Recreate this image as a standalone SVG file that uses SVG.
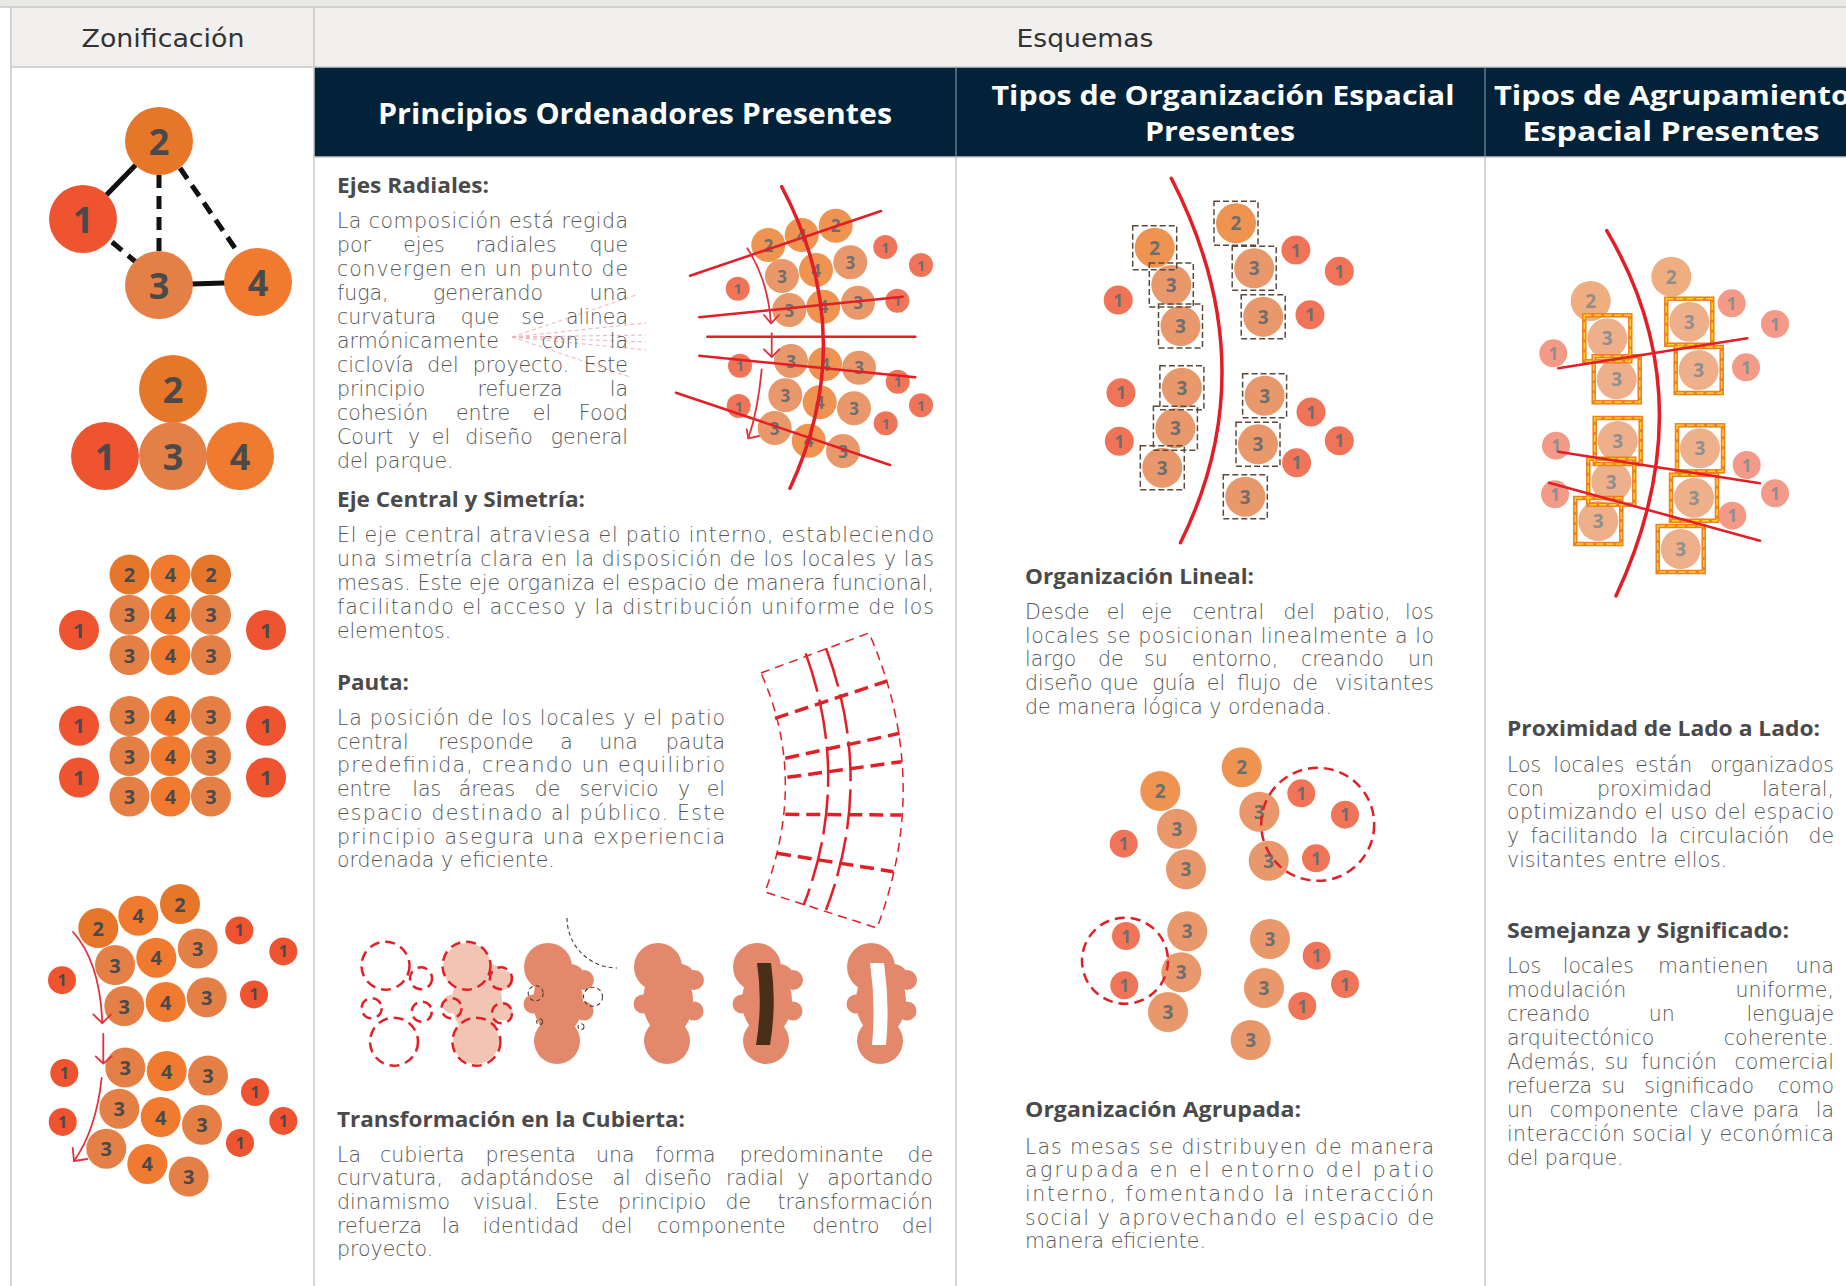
<svg xmlns="http://www.w3.org/2000/svg" xmlns:xlink="http://www.w3.org/1999/xlink" width="1846" height="1286" viewBox="0 0 1846 1286">
<defs>
<style>
.th{font-family:"DejaVu Sans","Open Sans",sans-serif;font-size:25px;fill:#333;text-anchor:middle}
.hd{font-family:"Open Sans","Liberation Sans",sans-serif;font-weight:700;fill:#fff;text-anchor:middle}
.h{font-family:"Open Sans","Liberation Sans",sans-serif;font-weight:700;font-size:22px;fill:#4a4a4a}
.b{font-family:"DejaVu Sans","Open Sans",sans-serif;font-weight:300;font-size:20.5px;fill:#555}
.m{text-anchor:middle}
.e{text-anchor:end}
.rule{stroke:#c9c9c9;stroke-width:1.5;fill:none}
.n{font-family:"Open Sans","Liberation Sans",sans-serif;font-weight:700;text-anchor:middle;dominant-baseline:central}
.z1{fill:#EE5430}.z2{fill:#E5762A}.z3{fill:#E48045}.z4{fill:#F07A30}
.nz{fill:#4a4a4a}
.p1{fill:#F07558}.p2{fill:#EF9350}.p3{fill:#E8986A}
.ng{fill:#6e6e6e}
.l1{fill:#F49A86}.l2{fill:#EFAE80}.l3{fill:#EDB08B}
.nl{fill:#8f8f8f}
.red{stroke:#E21E26;fill:none;stroke-linecap:round}
.arr{stroke:#E0303A;stroke-width:1.8;fill:none;stroke-linecap:round;stroke-linejoin:round}
.box{fill:none;stroke:#5b4a3b;stroke-width:1.5;stroke-dasharray:6 3}
.obox{fill:none;stroke:#F07F24;stroke-width:4.5}
.ybox{fill:none;stroke:#FFD21F;stroke-width:1.5;stroke-dasharray:7 3}
.dc{fill:none;stroke:#E21E26;stroke-width:2.5;stroke-dasharray:10 6}
.bk{fill:none;stroke:#4b3a2c;stroke-width:1.1;stroke-dasharray:4 3}
</style>
<g id="blob">
<circle cx="-10" cy="-36" r="24"/>
<circle cx="-1" cy="38" r="23"/>
<ellipse cx="0" cy="-2" rx="25" ry="35"/>
<ellipse cx="12" cy="-27" rx="14" ry="12"/>
<circle cx="26" cy="-23" r="10"/>
<circle cx="26" cy="8" r="9.5"/>
<circle cx="-25" cy="1" r="9.5"/>
</g>
<rect id="bx" x="-22" y="-22" width="44" height="44"/>
<rect id="bx2" x="-23" y="-23" width="46" height="46"/>
</defs>

<!-- table frame -->
<g id="table">
<rect x="0" y="0" width="1846" height="1286" fill="#fff"/>
<rect x="0" y="0" width="1846" height="7" fill="#ebe9e8"/>
<rect x="11" y="7" width="1835" height="60" fill="#f1f0ef"/>
<rect x="314" y="67" width="1532" height="90" fill="#02223A"/>
<line class="rule" x1="0" y1="7" x2="1846" y2="7"/>
<line class="rule" x1="11" y1="67" x2="1846" y2="67"/>
<line class="rule" x1="11" y1="7" x2="11" y2="1286"/>
<line class="rule" x1="314" y1="7" x2="314" y2="1286"/>
<line class="rule" x1="956" y1="157" x2="956" y2="1286"/>
<line class="rule" x1="1485" y1="157" x2="1485" y2="1286"/>
<line class="rule" x1="314" y1="157" x2="1846" y2="157"/>
<line x1="956" y1="67" x2="956" y2="157" stroke="#7f909c" stroke-width="1.2"/>
<line x1="1485" y1="67" x2="1485" y2="157" stroke="#7f909c" stroke-width="1.2"/>
<text class="th" x="163" y="47" textLength="163" lengthAdjust="spacingAndGlyphs">Zonificación</text>
<text class="th" x="1085" y="47" textLength="137" lengthAdjust="spacingAndGlyphs">Esquemas</text>
<text class="hd" x="635" y="124" font-size="28" textLength="514" lengthAdjust="spacingAndGlyphs">Principios Ordenadores Presentes</text>
<text class="hd" x="1223" y="105" font-size="26" textLength="463" lengthAdjust="spacingAndGlyphs">Tipos de Organización Espacial</text>
<text class="hd" x="1220" y="141" font-size="26" textLength="150" lengthAdjust="spacingAndGlyphs">Presentes</text>
<text class="hd" x="1494" y="105" font-size="26" style="text-anchor:start" textLength="356" lengthAdjust="spacingAndGlyphs">Tipos de Agrupamiento</text>
<text class="hd" x="1671" y="141" font-size="26" textLength="297" lengthAdjust="spacingAndGlyphs">Espacial Presentes</text>
</g>

<!-- Zonificación: relation graph -->
<g id="zon-graph">
<g id="zon-links" stroke="#111" stroke-width="5" fill="none">
<line x1="83" y1="219" x2="159" y2="141"/>
<line x1="159" y1="285" x2="258" y2="282"/>
<g stroke-dasharray="13 8">
<line x1="159" y1="175" x2="159" y2="251"/>
<line x1="180" y1="168" x2="239" y2="254"/>
<line x1="112" y1="242" x2="137" y2="263"/>
</g>
</g>
<g id="zn1"><circle class="z1" cx="83" cy="219" r="34"/><text class="n nz" x="83" y="219" font-size="36">1</text></g>
<g id="zn2"><circle class="z2" cx="159" cy="141" r="34"/><text class="n nz" x="159" y="141" font-size="36">2</text></g>
<g id="zn3"><circle class="z3" cx="159" cy="285" r="34"/><text class="n nz" x="159" y="285" font-size="36">3</text></g>
<g id="zn4"><circle class="z4" cx="258" cy="282" r="34"/><text class="n nz" x="258" y="282" font-size="36">4</text></g>
</g>

<!-- Zonificación: compact cluster -->
<g id="zon-cluster">
<circle class="z2" cx="173" cy="389" r="34"/>
<circle class="z1" cx="105" cy="456" r="34"/>
<circle class="z4" cx="240" cy="456" r="34"/>
<circle class="z3" cx="173" cy="456" r="34"/>
<g class="n nz" font-size="36">
<text x="173" y="389">2</text><text x="105" y="456">1</text><text x="173" y="456">3</text><text x="240" y="456">4</text>
</g>
</g>

<!-- Zonificación: grid layout -->
<g id="zon-grid">
<circle class="z2" cx="129.5" cy="574.5" r="20"/><circle class="z4" cx="170.5" cy="574.5" r="20"/><circle class="z2" cx="211" cy="574.5" r="20"/>
<circle class="z3" cx="129.5" cy="614.7" r="20"/><circle class="z4" cx="170.5" cy="614.7" r="20"/><circle class="z3" cx="211" cy="614.7" r="20"/>
<circle class="z3" cx="129.5" cy="655" r="20"/><circle class="z4" cx="170.5" cy="655" r="20"/><circle class="z3" cx="211" cy="655" r="20"/>
<circle class="z3" cx="129.5" cy="716" r="20"/><circle class="z4" cx="170.5" cy="716" r="20"/><circle class="z3" cx="211" cy="716" r="20"/>
<circle class="z3" cx="129.5" cy="756" r="20"/><circle class="z4" cx="170.5" cy="756" r="20"/><circle class="z3" cx="211" cy="756" r="20"/>
<circle class="z3" cx="129.5" cy="796.5" r="20"/><circle class="z4" cx="170.5" cy="796.5" r="20"/><circle class="z3" cx="211" cy="796.5" r="20"/>
<circle class="z1" cx="79" cy="630" r="20"/><circle class="z1" cx="266" cy="630" r="20"/>
<circle class="z1" cx="79" cy="725.7" r="20"/><circle class="z1" cx="266" cy="725.7" r="20"/>
<circle class="z1" cx="79" cy="777.5" r="20"/><circle class="z1" cx="266" cy="777.5" r="20"/>
<g class="n nz" font-size="20">
<text x="129.5" y="574.5">2</text><text x="170.5" y="574.5">4</text><text x="211" y="574.5">2</text>
<text x="129.5" y="614.7">3</text><text x="170.5" y="614.7">4</text><text x="211" y="614.7">3</text>
<text x="129.5" y="655">3</text><text x="170.5" y="655">4</text><text x="211" y="655">3</text>
<text x="129.5" y="716">3</text><text x="170.5" y="716">4</text><text x="211" y="716">3</text>
<text x="129.5" y="756">3</text><text x="170.5" y="756">4</text><text x="211" y="756">3</text>
<text x="129.5" y="796.5">3</text><text x="170.5" y="796.5">4</text><text x="211" y="796.5">3</text>
<text x="79" y="630">1</text><text x="266" y="630">1</text>
<text x="79" y="725.7">1</text><text x="266" y="725.7">1</text>
<text x="79" y="777.5">1</text><text x="266" y="777.5">1</text>
</g>
</g>

<!-- Zonificación: curved layout -->
<g id="zon-curve">
<circle class="z2" cx="98.3" cy="928" r="20"/><circle class="z4" cx="138.3" cy="915.7" r="20"/><circle class="z2" cx="180" cy="904" r="20"/>
<circle class="z3" cx="115" cy="965" r="20"/><circle class="z4" cx="156.3" cy="957.7" r="20"/><circle class="z3" cx="197.7" cy="948.4" r="20"/>
<circle class="z3" cx="124.3" cy="1006" r="20"/><circle class="z4" cx="165.7" cy="1002" r="20"/><circle class="z3" cx="206.7" cy="997.3" r="20"/>
<circle class="z3" cx="125.3" cy="1067.6" r="20"/><circle class="z4" cx="166.7" cy="1071" r="20"/><circle class="z3" cx="208" cy="1075.4" r="20"/>
<circle class="z3" cx="119.3" cy="1108.7" r="20"/><circle class="z4" cx="160.7" cy="1117" r="20"/><circle class="z3" cx="202" cy="1124.8" r="20"/>
<circle class="z3" cx="106.3" cy="1148.7" r="20"/><circle class="z4" cx="147.3" cy="1163.9" r="20"/><circle class="z3" cx="188.7" cy="1176.6" r="20"/>
<circle class="z1" cx="62" cy="980.2" r="14"/><circle class="z1" cx="239.3" cy="930.4" r="14"/><circle class="z1" cx="283.3" cy="951.4" r="14"/>
<circle class="z1" cx="254" cy="994.4" r="14"/><circle class="z1" cx="64.3" cy="1073" r="14"/><circle class="z1" cx="62.7" cy="1121.9" r="14"/>
<circle class="z1" cx="255" cy="1092" r="14"/><circle class="z1" cx="283.3" cy="1120.9" r="14"/><circle class="z1" cx="240" cy="1142.9" r="14"/>
<g class="n nz" font-size="20">
<text x="98.3" y="928">2</text><text x="138.3" y="915.7">4</text><text x="180" y="904">2</text>
<text x="115" y="965">3</text><text x="156.3" y="957.7">4</text><text x="197.7" y="948.4">3</text>
<text x="124.3" y="1006">3</text><text x="165.7" y="1002">4</text><text x="206.7" y="997.3">3</text>
<text x="125.3" y="1067.6">3</text><text x="166.7" y="1071">4</text><text x="208" y="1075.4">3</text>
<text x="119.3" y="1108.7">3</text><text x="160.7" y="1117">4</text><text x="202" y="1124.8">3</text>
<text x="106.3" y="1148.7">3</text><text x="147.3" y="1163.9">4</text><text x="188.7" y="1176.6">3</text>
</g>
<g class="n nz" font-size="16">
<text x="62" y="980.2">1</text><text x="239.3" y="930.4">1</text><text x="283.3" y="951.4">1</text>
<text x="254" y="994.4">1</text><text x="64.3" y="1073">1</text><text x="62.7" y="1121.9">1</text>
<text x="255" y="1092">1</text><text x="283.3" y="1120.9">1</text><text x="240" y="1142.9">1</text>
</g>
<g class="arr" stroke-width="2">
<path d="M73,932 Q100,962 102.3,1023"/><path d="M93.3,1014.4 L102.3,1023.2 L111,1014.4"/>
<path d="M103.3,1034 L103.3,1063"/><path d="M95.7,1056.4 L103.3,1063.5 L111.7,1056.4"/>
<path d="M101.7,1078 Q96,1130 74,1161"/><path d="M72.7,1147.8 L74,1161 L87.3,1159"/>
</g>
</g>

<!-- Principios: Ejes Radiales -->
<g id="ejes-radiales">
<text class="h" x="337" y="193" textLength="152" lengthAdjust="spacingAndGlyphs">Ejes Radiales:</text>
<g stroke="#F3A1A9" stroke-width="1" stroke-dasharray="4 3" fill="none" opacity="0.85">
<line x1="512" y1="337" x2="636" y2="295"/><line x1="512" y1="337" x2="646" y2="323"/>
<line x1="512" y1="337" x2="646" y2="335"/><line x1="512" y1="337" x2="646" y2="342"/>
<line x1="512" y1="337" x2="646" y2="350"/><line x1="512" y1="337" x2="630" y2="377"/>
</g>
<g class="b">
<text x="337" y="228" textLength="291" lengthAdjust="spacing">La composición está regida</text>
<text x="337" y="252">por</text><text class="m" x="424" y="252">ejes</text><text class="m" x="516" y="252">radiales</text><text class="e" x="628" y="252">que</text>
<text x="337" y="276" textLength="291" lengthAdjust="spacing">convergen en un punto de</text>
<text x="337" y="300">fuga,</text><text class="m" x="488" y="300">generando</text><text class="e" x="628" y="300">una</text>
<text x="337" y="324">curvatura</text><text class="m" x="480" y="324">que</text><text class="m" x="533" y="324">se</text><text class="e" x="628" y="324">alinea</text>
<text x="337" y="348">armónicamente</text><text class="m" x="560" y="348">con</text><text class="e" x="628" y="348">la</text>
<text x="337" y="372">ciclovía</text><text class="m" x="443" y="372">del</text><text class="m" x="521" y="372">proyecto.</text><text class="e" x="628" y="372">Este</text>
<text x="337" y="396">principio</text><text class="m" x="520" y="396">refuerza</text><text class="e" x="628" y="396">la</text>
<text x="337" y="420">cohesión</text><text class="m" x="483" y="420">entre</text><text class="m" x="542" y="420">el</text><text class="e" x="628" y="420">Food</text>
<text x="337" y="444">Court</text><text class="m" x="414" y="444">y</text><text class="m" x="441" y="444">el</text><text class="m" x="499" y="444">diseño</text><text class="e" x="628" y="444">general</text>
<text x="337" y="468">del parque.</text>
</g>
<!-- radial scheme -->
<g>
<circle class="p2" cx="768.3" cy="245" r="17"/><circle class="p2" cx="801.7" cy="235" r="17"/><circle class="p2" cx="835.7" cy="225.7" r="17"/>
<circle class="p3" cx="782" cy="276" r="17"/><circle class="p2" cx="816" cy="270" r="17"/><circle class="p3" cx="850.3" cy="262.3" r="17"/>
<circle class="p3" cx="789.3" cy="310" r="17"/><circle class="p2" cx="823.3" cy="306.7" r="17"/><circle class="p3" cx="858" cy="302.7" r="17"/>
<circle class="p3" cx="791" cy="361" r="17"/><circle class="p2" cx="825" cy="364" r="17"/><circle class="p3" cx="859" cy="367.7" r="17"/>
<circle class="p3" cx="785.3" cy="395.3" r="17"/><circle class="p2" cx="819.7" cy="402.3" r="17"/><circle class="p3" cx="854" cy="408.3" r="17"/>
<circle class="p3" cx="774.7" cy="428" r="17"/><circle class="p2" cx="808.7" cy="440.7" r="17"/><circle class="p3" cx="843" cy="451" r="17"/>
<circle class="p1" cx="737.7" cy="288.7" r="12"/><circle class="p1" cx="885.3" cy="247" r="12"/><circle class="p1" cx="921" cy="265" r="12"/>
<circle class="p1" cx="897.3" cy="300.7" r="12"/><circle class="p1" cx="740" cy="365.7" r="12"/><circle class="p1" cx="897.7" cy="381.7" r="12"/>
<circle class="p1" cx="921" cy="405.3" r="12"/><circle class="p1" cx="885.7" cy="423.3" r="12"/><circle class="p1" cx="738.7" cy="406" r="12"/>
<g class="n ng" font-size="17">
<text x="768.3" y="245">2</text><text x="801.7" y="235">4</text><text x="835.7" y="225.7">2</text>
<text x="782" y="276">3</text><text x="816" y="270">4</text><text x="850.3" y="262.3">3</text>
<text x="789.3" y="310">3</text><text x="823.3" y="306.7">4</text><text x="858" y="302.7">3</text>
<text x="791" y="361">3</text><text x="825" y="364">4</text><text x="859" y="367.7">3</text>
<text x="785.3" y="395.3">3</text><text x="819.7" y="402.3">4</text><text x="854" y="408.3">3</text>
<text x="774.7" y="428">3</text><text x="808.7" y="440.7">4</text><text x="843" y="451">3</text>
</g>
<g class="n ng" font-size="14">
<text x="737.7" y="288.7">1</text><text x="885.3" y="247">1</text><text x="921" y="265">1</text>
<text x="897.3" y="300.7">1</text><text x="740" y="365.7">1</text><text x="897.7" y="381.7">1</text>
<text x="921" y="405.3">1</text><text x="885.7" y="423.3">1</text><text x="738.7" y="406">1</text>
</g>
<g class="red" stroke-width="2.5">
<line x1="690" y1="275.7" x2="881" y2="211"/>
<line x1="699.3" y1="317.3" x2="902.7" y2="296.7"/>
<line x1="707.3" y1="336.7" x2="915.3" y2="336.7"/>
<line x1="699.3" y1="355.7" x2="915.3" y2="377.3"/>
<line x1="676" y1="392.7" x2="890" y2="465"/>
</g>
<path class="red" stroke-width="3.5" d="M781.7,186.7 Q860.8,336 790,488.3"/>
<g class="arr" stroke-width="1.6">
<path d="M747.3,248.3 Q768,280 771,323.3"/><path d="M764,315 L771,323.3 L779,315"/>
<path d="M771.7,333.3 L771.7,356.7"/><path d="M764,349.3 L771.7,357 L779.3,349.3"/>
<path d="M761.7,369.3 Q758,410 748.3,438.3"/><path d="M746.7,429.3 L748.3,438.3 L759,436"/>
</g>
</g>
</g>

<!-- Principios: Eje Central y Simetría -->
<g id="eje-central">
<text class="h" x="337" y="507" textLength="248" lengthAdjust="spacingAndGlyphs">Eje Central y Simetría:</text>
<g class="b">
<text x="337" y="542" textLength="597" lengthAdjust="spacing">El eje central atraviesa el patio interno, estableciendo</text>
<text x="337" y="566" textLength="597" lengthAdjust="spacing">una simetría clara en la disposición de los locales y las</text>
<text x="337" y="590" textLength="597" lengthAdjust="spacing">mesas. Este eje organiza el espacio de manera funcional,</text>
<text x="337" y="614" textLength="597" lengthAdjust="spacing">facilitando el acceso y la distribución uniforme de los</text>
<text x="337" y="638">elementos.</text>
</g>
</g>

<!-- Principios: Pauta -->
<g id="pauta">
<text class="h" x="337" y="690" textLength="72" lengthAdjust="spacingAndGlyphs">Pauta:</text>
<g class="b">
<text x="337" y="725" textLength="388" lengthAdjust="spacing">La posición de los locales y el patio</text>
<text x="337" y="748.7">central</text><text class="m" x="486" y="748.7">responde</text><text class="m" x="566.5" y="748.7">a</text><text class="m" x="618.6" y="748.7">una</text><text class="e" x="725" y="748.7">pauta</text>
<text x="337" y="772.4" textLength="388" lengthAdjust="spacing">predefinida, creando un equilibrio</text>
<text x="337" y="796">entre</text><text class="m" x="426.7" y="796">las</text><text class="m" x="487" y="796">áreas</text><text class="m" x="547.6" y="796">de</text><text class="m" x="619" y="796">servicio</text><text class="m" x="684" y="796">y</text><text class="e" x="725" y="796">el</text>
<text x="337" y="819.8" textLength="388" lengthAdjust="spacing">espacio destinado al público. Este</text>
<text x="337" y="843.5" textLength="388" lengthAdjust="spacing">principio asegura una experiencia</text>
<text x="337" y="867.2">ordenada y eficiente.</text>
</g>
<!-- curved grid scheme -->
<g fill="none" stroke="#E21E26">
<path d="M761,673 L869,633 Q933,779.5 877,928 L765,892 Q807.6,777.5 761,673 Z" stroke-width="1.5" stroke-dasharray="9 6"/>
<g stroke-width="3.5" stroke-dasharray="14 7">
<line x1="775" y1="718.3" x2="887.3" y2="681"/>
<line x1="785.3" y1="758.3" x2="899.6" y2="733.3"/>
<line x1="787.3" y1="777.3" x2="901.6" y2="761.7"/>
<line x1="785.3" y1="814.3" x2="901.6" y2="815"/>
<line x1="777.1" y1="853.3" x2="893.5" y2="871.7"/>
</g>
<g stroke-width="2.5" stroke-dasharray="40 8">
<path d="M805.7,653.3 Q851.7,780.8 803.7,905"/>
<path d="M826,648.3 Q875.2,780.8 826,910"/>
</g>
</g>
</g>

<!-- Principios: cubierta transformation sequence -->
<g id="cubierta">
<g class="dc">
<circle cx="385.5" cy="965.7" r="24"/><circle cx="421" cy="978.3" r="11"/><circle cx="371.6" cy="1008.3" r="10"/>
<circle cx="421.8" cy="1011.7" r="10"/><circle cx="394" cy="1041.7" r="24"/>
</g>
<use xlink:href="#blob" href="#blob" x="477" y="1003" fill="#F2C4B4"/>
<g class="dc">
<circle cx="466.5" cy="965.7" r="24"/><circle cx="500.9" cy="978.3" r="11"/><circle cx="451.5" cy="1008.3" r="10"/>
<circle cx="502" cy="1013.3" r="10"/><circle cx="476.4" cy="1041.7" r="24"/>
</g>
<use xlink:href="#blob" href="#blob" x="558" y="1003" fill="#E3886A"/>
<g class="bk">
<path d="M567,918 A50,50 0 0 0 617,968"/>
<circle cx="535.7" cy="993.3" r="7.5"/><circle cx="593" cy="996.7" r="9.5"/>
<circle cx="539.6" cy="1021.7" r="3"/><circle cx="581" cy="1026.7" r="3"/>
</g>
<use xlink:href="#blob" href="#blob" x="668" y="1003" fill="#E3886A"/>
<use xlink:href="#blob" href="#blob" x="767" y="1003" fill="#E3886A"/>
<path d="M757,963 L771,963 Q777,1004 770,1045 L756,1045 Q763,1004 757,963 Z" fill="#4A2F18"/>
<use xlink:href="#blob" href="#blob" x="881" y="1003" fill="#E3886A"/>
<path d="M870,963 L884,963 Q890,1004 886,1045 L872,1045 Q876,1004 870,963 Z" fill="#fff"/>
<text class="h" x="337" y="1127" textLength="348" lengthAdjust="spacingAndGlyphs">Transformación en la Cubierta:</text>
<g class="b">
<text x="337" y="1161.7">La</text><text class="m" x="422.2" y="1161.7">cubierta</text><text class="m" x="530.7" y="1161.7">presenta</text><text class="m" x="615.3" y="1161.7">una</text><text class="m" x="685.3" y="1161.7">forma</text><text class="m" x="811.5" y="1161.7">predominante</text><text class="e" x="933" y="1161.7">de</text>
<text x="337" y="1185.3">curvatura,</text><text class="m" x="526.8" y="1185.3">adaptándose</text><text class="m" x="621.6" y="1185.3">al</text><text class="m" x="678" y="1185.3">diseño</text><text class="m" x="755" y="1185.3">radial</text><text class="m" x="803.4" y="1185.3">y</text><text class="e" x="933" y="1185.3">aportando</text>
<text x="337" y="1209">dinamismo</text><text class="m" x="506" y="1209">visual.</text><text class="m" x="577.2" y="1209">Este</text><text class="m" x="662.1" y="1209">principio</text><text class="m" x="738.2" y="1209">de</text><text class="e" x="933" y="1209">transformación</text>
<text x="337" y="1232.7">refuerza</text><text class="m" x="451" y="1232.7">la</text><text class="m" x="530.7" y="1232.7">identidad</text><text class="m" x="616.7" y="1232.7">del</text><text class="m" x="721.4" y="1232.7">componente</text><text class="m" x="845.9" y="1232.7">dentro</text><text class="e" x="933" y="1232.7">del</text>
<text x="337" y="1256.4">proyecto.</text>
</g>
</g>

<!-- Organización: lineal -->
<g id="org-lineal">
<circle class="p2" cx="1154.7" cy="247.7" r="20"/><circle class="p3" cx="1171.3" cy="285" r="20"/><circle class="p3" cx="1180.5" cy="326" r="20"/>
<circle class="p3" cx="1181.9" cy="387.7" r="20"/><circle class="p3" cx="1175.4" cy="428.3" r="20"/><circle class="p3" cx="1162.3" cy="467.7" r="20"/>
<circle class="p2" cx="1236" cy="223.3" r="20"/><circle class="p3" cx="1254.2" cy="268.3" r="20"/><circle class="p3" cx="1263.2" cy="316.7" r="20"/>
<circle class="p3" cx="1264.6" cy="395.7" r="20"/><circle class="p3" cx="1258" cy="444.3" r="20"/><circle class="p3" cx="1245.3" cy="496.7" r="20"/>
<circle class="p1" cx="1118.2" cy="300" r="14.5"/><circle class="p1" cx="1295.9" cy="250" r="14.5"/><circle class="p1" cx="1339.3" cy="271.3" r="14.5"/>
<circle class="p1" cx="1310" cy="314.7" r="14.5"/><circle class="p1" cx="1121" cy="392.7" r="14.5"/><circle class="p1" cx="1119.3" cy="441.3" r="14.5"/>
<circle class="p1" cx="1311" cy="412" r="14.5"/><circle class="p1" cx="1339.3" cy="440.7" r="14.5"/><circle class="p1" cx="1296.6" cy="462.7" r="14.5"/>
<g class="box">
<use xlink:href="#bx" href="#bx" x="1154.7" y="247.7"/><use xlink:href="#bx" href="#bx" x="1171.3" y="285"/><use xlink:href="#bx" href="#bx" x="1180.5" y="326"/>
<use xlink:href="#bx" href="#bx" x="1181.9" y="387.7"/><use xlink:href="#bx" href="#bx" x="1175.4" y="428.3"/><use xlink:href="#bx" href="#bx" x="1162.3" y="467.7"/>
<use xlink:href="#bx" href="#bx" x="1236" y="223.3"/><use xlink:href="#bx" href="#bx" x="1254.2" y="268.3"/><use xlink:href="#bx" href="#bx" x="1263.2" y="316.7"/>
<use xlink:href="#bx" href="#bx" x="1264.6" y="395.7"/><use xlink:href="#bx" href="#bx" x="1258" y="444.3"/><use xlink:href="#bx" href="#bx" x="1245.3" y="496.7"/>
</g>
<g class="n ng" font-size="19">
<text x="1154.7" y="247.7">2</text><text x="1171.3" y="285">3</text><text x="1180.5" y="326">3</text>
<text x="1181.9" y="387.7">3</text><text x="1175.4" y="428.3">3</text><text x="1162.3" y="467.7">3</text>
<text x="1236" y="223.3">2</text><text x="1254.2" y="268.3">3</text><text x="1263.2" y="316.7">3</text>
<text x="1264.6" y="395.7">3</text><text x="1258" y="444.3">3</text><text x="1245.3" y="496.7">3</text>
</g>
<g class="n ng" font-size="17">
<text x="1118.2" y="300">1</text><text x="1295.9" y="250">1</text><text x="1339.3" y="271.3">1</text>
<text x="1310" y="314.7">1</text><text x="1121" y="392.7">1</text><text x="1119.3" y="441.3">1</text>
<text x="1311" y="412">1</text><text x="1339.3" y="440.7">1</text><text x="1296.6" y="462.7">1</text>
</g>
<path class="red" stroke-width="3.5" d="M1171.3,178.3 Q1267.9,366.1 1180.5,542.7"/>
<text class="h" x="1025" y="584" textLength="229" lengthAdjust="spacingAndGlyphs">Organización Lineal:</text>
<g class="b">
<text x="1025" y="619">Desde</text><text class="m" x="1115.8" y="619">el</text><text class="m" x="1156.7" y="619">eje</text><text class="m" x="1228.3" y="619">central</text><text class="m" x="1299.2" y="619">del</text><text class="m" x="1361.7" y="619">patio,</text><text class="e" x="1434" y="619">los</text>
<text x="1025" y="642.7" textLength="409" lengthAdjust="spacing">locales se posicionan linealmente a lo</text>
<text x="1025" y="666.4">largo</text><text class="m" x="1110.8" y="666.4">de</text><text class="m" x="1155.8" y="666.4">su</text><text class="m" x="1235" y="666.4">entorno,</text><text class="m" x="1342.5" y="666.4">creando</text><text class="e" x="1434" y="666.4">un</text>
<text x="1025" y="690.1">diseño</text><text class="m" x="1119" y="690.1">que</text><text class="m" x="1174" y="690.1">guía</text><text class="m" x="1216" y="690.1">el</text><text class="m" x="1259" y="690.1">flujo</text><text class="m" x="1305" y="690.1">de</text><text class="e" x="1434" y="690.1">visitantes</text>
<text x="1025" y="713.8">de manera lógica y ordenada.</text>
</g>
</g>

<!-- Organización: agrupada -->
<g id="org-agrupada">
<circle class="p2" cx="1241.7" cy="767.3" r="20"/><circle class="p2" cx="1160.3" cy="791" r="20"/>
<circle class="p3" cx="1177" cy="828.7" r="20"/><circle class="p3" cx="1186" cy="869.3" r="20"/>
<circle class="p3" cx="1259.3" cy="811.7" r="20"/><circle class="p3" cx="1268.7" cy="860.7" r="20"/>
<circle class="p3" cx="1187.3" cy="931.3" r="20"/><circle class="p3" cx="1181.3" cy="972.3" r="20"/><circle class="p3" cx="1168" cy="1012" r="20"/>
<circle class="p3" cx="1270" cy="939" r="20"/><circle class="p3" cx="1264" cy="988" r="20"/><circle class="p3" cx="1250.7" cy="1040" r="20"/>
<circle class="p1" cx="1123.7" cy="843.7" r="14"/><circle class="p1" cx="1301.3" cy="793.3" r="14"/><circle class="p1" cx="1345" cy="814.7" r="14"/>
<circle class="p1" cx="1316" cy="858.3" r="14"/><circle class="p1" cx="1126" cy="936" r="14"/><circle class="p1" cx="1124.3" cy="985.3" r="14"/>
<circle class="p1" cx="1316.7" cy="955.7" r="14"/><circle class="p1" cx="1345" cy="984" r="14"/><circle class="p1" cx="1302.3" cy="1006" r="14"/>
<g class="n ng" font-size="19">
<text x="1241.7" y="767.3">2</text><text x="1160.3" y="791">2</text>
<text x="1177" y="828.7">3</text><text x="1186" y="869.3">3</text>
<text x="1259.3" y="811.7">3</text><text x="1268.7" y="860.7">3</text>
<text x="1187.3" y="931.3">3</text><text x="1181.3" y="972.3">3</text><text x="1168" y="1012">3</text>
<text x="1270" y="939">3</text><text x="1264" y="988">3</text><text x="1250.7" y="1040">3</text>
</g>
<g class="n ng" font-size="17">
<text x="1123.7" y="843.7">1</text><text x="1301.3" y="793.3">1</text><text x="1345" y="814.7">1</text>
<text x="1316" y="858.3">1</text><text x="1126" y="936">1</text><text x="1124.3" y="985.3">1</text>
<text x="1316.7" y="955.7">1</text><text x="1345" y="984">1</text><text x="1302.3" y="1006">1</text>
</g>
<circle class="dc" cx="1317.7" cy="824.3" r="56.5" stroke-dasharray="12 7"/>
<circle class="dc" cx="1125" cy="960.7" r="43" stroke-dasharray="12 7"/>
<text class="h" x="1025" y="1117.3" textLength="276" lengthAdjust="spacingAndGlyphs">Organización Agrupada:</text>
<g class="b">
<text x="1025" y="1153.5" textLength="409" lengthAdjust="spacing">Las mesas se distribuyen de manera</text>
<text x="1025" y="1177.2" textLength="409" lengthAdjust="spacing">agrupada en el entorno del patio</text>
<text x="1025" y="1200.9" textLength="409" lengthAdjust="spacing">interno, fomentando la interacción</text>
<text x="1025" y="1224.6" textLength="409" lengthAdjust="spacing">social y aprovechando el espacio de</text>
<text x="1025" y="1248.3">manera eficiente.</text>
</g>
</g>

<!-- Agrupamiento scheme -->
<g id="agrupamiento">
<circle class="l2" cx="1590.7" cy="301" r="20"/><circle class="l2" cx="1671.3" cy="276.7" r="20"/>
<circle class="l3" cx="1607.3" cy="338.3" r="20"/><circle class="l3" cx="1616.7" cy="379.3" r="20"/>
<circle class="l3" cx="1689.3" cy="321.7" r="20"/><circle class="l3" cx="1698.7" cy="370" r="20"/>
<circle class="l3" cx="1617.7" cy="441" r="20"/><circle class="l3" cx="1611.3" cy="481.7" r="20"/><circle class="l3" cx="1598.3" cy="521" r="20"/>
<circle class="l3" cx="1700" cy="448.3" r="20"/><circle class="l3" cx="1694" cy="497.7" r="20"/><circle class="l3" cx="1680.7" cy="549" r="20"/>
<circle class="l1" cx="1553.3" cy="353.3" r="14"/><circle class="l1" cx="1731.7" cy="303.3" r="14"/><circle class="l1" cx="1775" cy="324" r="14"/>
<circle class="l1" cx="1746" cy="367.3" r="14"/><circle class="l1" cx="1556" cy="445.7" r="14"/><circle class="l1" cx="1555" cy="494.3" r="14"/>
<circle class="l1" cx="1746.7" cy="465" r="14"/><circle class="l1" cx="1775" cy="493.3" r="14"/><circle class="l1" cx="1732.3" cy="515.7" r="14"/>
<g class="obox">
<use xlink:href="#bx2" href="#bx2" x="1607.3" y="338.3"/><use xlink:href="#bx2" href="#bx2" x="1616.7" y="379.3"/>
<use xlink:href="#bx2" href="#bx2" x="1689.3" y="321.7"/><use xlink:href="#bx2" href="#bx2" x="1698.7" y="370"/>
<use xlink:href="#bx2" href="#bx2" x="1617.7" y="441"/><use xlink:href="#bx2" href="#bx2" x="1611.3" y="481.7"/><use xlink:href="#bx2" href="#bx2" x="1598.3" y="521"/>
<use xlink:href="#bx2" href="#bx2" x="1700" y="448.3"/><use xlink:href="#bx2" href="#bx2" x="1694" y="497.7"/><use xlink:href="#bx2" href="#bx2" x="1680.7" y="549"/>
</g>
<g class="ybox">
<use xlink:href="#bx2" href="#bx2" x="1607.3" y="338.3"/><use xlink:href="#bx2" href="#bx2" x="1616.7" y="379.3"/>
<use xlink:href="#bx2" href="#bx2" x="1689.3" y="321.7"/><use xlink:href="#bx2" href="#bx2" x="1698.7" y="370"/>
<use xlink:href="#bx2" href="#bx2" x="1617.7" y="441"/><use xlink:href="#bx2" href="#bx2" x="1611.3" y="481.7"/><use xlink:href="#bx2" href="#bx2" x="1598.3" y="521"/>
<use xlink:href="#bx2" href="#bx2" x="1700" y="448.3"/><use xlink:href="#bx2" href="#bx2" x="1694" y="497.7"/><use xlink:href="#bx2" href="#bx2" x="1680.7" y="549"/>
</g>
<g class="n nl" font-size="19">
<text x="1590.7" y="301">2</text><text x="1671.3" y="276.7">2</text>
<text x="1607.3" y="338.3">3</text><text x="1616.7" y="379.3">3</text>
<text x="1689.3" y="321.7">3</text><text x="1698.7" y="370">3</text>
<text x="1617.7" y="441">3</text><text x="1611.3" y="481.7">3</text><text x="1598.3" y="521">3</text>
<text x="1700" y="448.3">3</text><text x="1694" y="497.7">3</text><text x="1680.7" y="549">3</text>
</g>
<g class="n nl" font-size="17">
<text x="1553.3" y="353.3">1</text><text x="1731.7" y="303.3">1</text><text x="1775" y="324">1</text>
<text x="1746" y="367.3">1</text><text x="1556" y="445.7">1</text><text x="1555" y="494.3">1</text>
<text x="1746.7" y="465">1</text><text x="1775" y="493.3">1</text><text x="1732.3" y="515.7">1</text>
</g>
<g class="red" stroke-width="2.5">
<line x1="1558.3" y1="368.3" x2="1747.3" y2="338.3"/>
<line x1="1558.3" y1="451.7" x2="1760" y2="483.3"/>
<line x1="1549" y1="482.7" x2="1760" y2="540.7"/>
</g>
<path class="red" stroke-width="3.5" d="M1606.7,230.7 Q1707.3,400 1616,596"/>
</g>

<!-- Agrupamiento texts -->
<g id="proximidad">
<text class="h" x="1507" y="735.5" textLength="313" lengthAdjust="spacingAndGlyphs">Proximidad de Lado a Lado:</text>
<g class="b">
<text x="1507" y="772">Los</text><text class="m" x="1588.8" y="772">locales</text><text class="m" x="1663.8" y="772">están</text><text class="e" x="1834" y="772">organizados</text>
<text x="1507" y="795.7">con</text><text class="m" x="1654.5" y="795.7">proximidad</text><text class="e" x="1834" y="795.7">lateral,</text>
<text x="1507" y="819.4" textLength="327" lengthAdjust="spacing">optimizando el uso del espacio</text>
<text x="1507" y="843.1">y</text><text class="m" x="1584.2" y="843.1">facilitando</text><text class="m" x="1659.2" y="843.1">la</text><text class="m" x="1734.2" y="843.1">circulación</text><text class="e" x="1834" y="843.1">de</text>
<text x="1507" y="866.8">visitantes entre ellos.</text>
</g>
</g>
<g id="semejanza">
<text class="h" x="1507" y="938" textLength="282" lengthAdjust="spacingAndGlyphs">Semejanza y Significado:</text>
<g class="b">
<text x="1507" y="973">Los</text><text class="m" x="1598.3" y="973">locales</text><text class="m" x="1713.3" y="973">mantienen</text><text class="e" x="1834" y="973">una</text>
<text x="1507" y="997">modulación</text><text class="e" x="1834" y="997">uniforme,</text>
<text x="1507" y="1021">creando</text><text class="m" x="1661.7" y="1021">un</text><text class="e" x="1834" y="1021">lenguaje</text>
<text x="1507" y="1045">arquitectónico</text><text class="e" x="1834" y="1045">coherente.</text>
<text x="1507" y="1069">Además,</text><text class="m" x="1616.7" y="1069">su</text><text class="m" x="1679.2" y="1069">función</text><text class="e" x="1834" y="1069">comercial</text>
<text x="1507" y="1093">refuerza</text><text class="m" x="1613.3" y="1093">su</text><text class="m" x="1699.2" y="1093">significado</text><text class="e" x="1834" y="1093">como</text>
<text x="1507" y="1117">un</text><text class="m" x="1614" y="1117">componente</text><text class="m" x="1717" y="1117">clave</text><text class="m" x="1776" y="1117">para</text><text class="e" x="1834" y="1117">la</text>
<text x="1507" y="1141" textLength="327" lengthAdjust="spacing">interacción social y económica</text>
<text x="1507" y="1165">del parque.</text>
</g>
</g>
</svg>
